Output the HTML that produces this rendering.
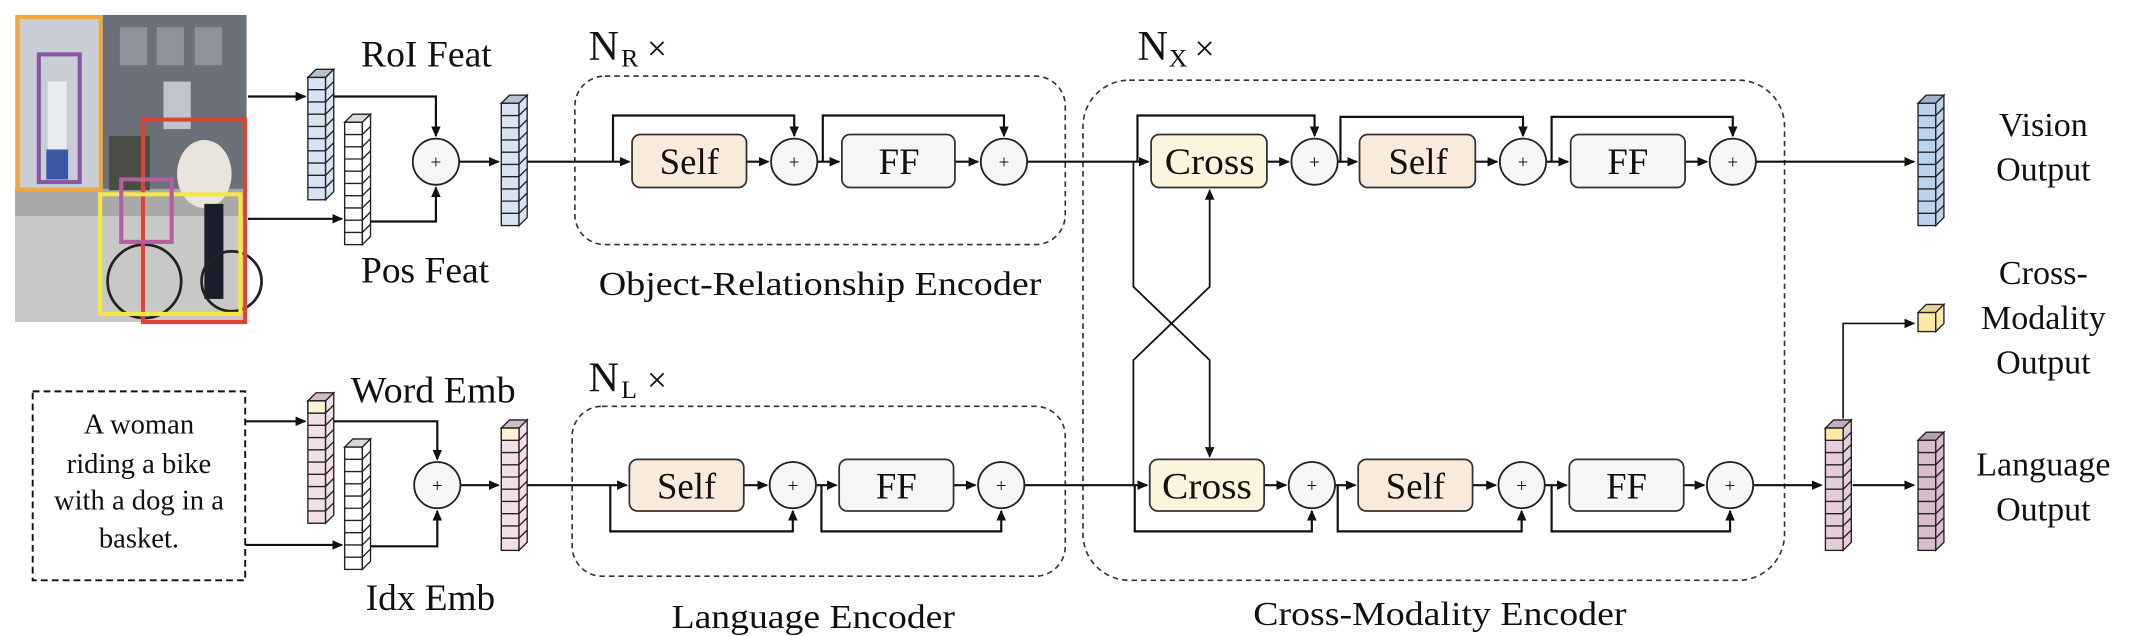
<!DOCTYPE html>
<html><head><meta charset="utf-8"><style>
html,body{margin:0;padding:0;background:#fff}
svg{display:block}
svg text{font-family:"Liberation Serif","Times New Roman","DejaVu Serif",serif;fill:#111}
</style></head><body>
<svg width="2136" height="636" viewBox="0 0 1568 468" preserveAspectRatio="none" xmlns="http://www.w3.org/2000/svg" font-family="Liberation Serif, Times New Roman, DejaVu Serif, serif">
<defs>
<marker id="ah" markerWidth="8" markerHeight="8" refX="7" refY="4" orient="auto" markerUnits="userSpaceOnUse"><path d="M0,0.5 L8,4 L0,7.5 z" fill="#111"/></marker>
<g id="cells10">
<path d="M0,15H13M0,24H13M0,33H13M0,42H13M0,51H13M0,60H13M0,69H13M0,78H13M0,87H13 M13,15L19,9M13,24L19,18M13,33L19,27M13,42L19,36M13,51L19,45M13,60L19,54M13,69L19,63M13,78L19,72M13,87L19,81" stroke="#222" stroke-width="1" fill="none"/>
</g>
<g id="cube">
<polygon points="0,6 6,0 19,0 13,6" fill="currentColor" stroke="#222"/>
<polygon points="0,6 6,0 19,0 13,6" fill="#000" opacity="0.15"/>
<rect x="0" y="6" width="13" height="90" fill="currentColor" stroke="#222"/>
<polygon points="13,6 19,0 19,90 13,96" fill="currentColor" stroke="#222"/>
<use href="#cells10"/>
</g>
</defs>

<!-- photo -->
<rect x="11" y="11" width="170" height="130" fill="#6c707a"/>
<rect x="11" y="11" width="64" height="128" fill="#c9ced6"/>
<rect x="11" y="139" width="170" height="98" fill="#c8c8c6"/>
<rect x="11" y="139" width="170" height="20" fill="#a9a9a8"/>
<rect x="35" y="60" width="14" height="70" fill="#e8ebf0"/>
<rect x="34" y="110" width="16" height="22" fill="#3d56a3"/>
<rect x="88" y="20" width="20" height="28" fill="#8d929b"/>
<rect x="115" y="20" width="20" height="28" fill="#8d929b"/>
<rect x="143" y="20" width="20" height="28" fill="#8d929b"/>
<rect x="120" y="60" width="20" height="35" fill="#c0c4cc"/>
<rect x="80" y="100" width="30" height="40" fill="#4a4d45"/>
<ellipse cx="150" cy="128" rx="20" ry="25" fill="#e9e5dc"/>
<rect x="150" y="150" width="14" height="70" fill="#1b1f2c"/>
<circle cx="106" cy="207" r="27" fill="none" stroke="#222" stroke-width="2"/>
<circle cx="170" cy="207" r="22" fill="none" stroke="#222" stroke-width="2"/>
<g fill="none" stroke-width="3">
<rect x="13" y="12.5" width="61" height="127" stroke="#eda93a"/>
<rect x="28.5" y="40" width="30" height="94" stroke="#8a55a3"/>
<rect x="105" y="88" width="75" height="149" stroke="#de4333"/>
<rect x="73.5" y="143" width="103" height="88" stroke="#f4e842"/>
<rect x="89" y="132" width="37" height="46" stroke="#b35fa0"/>
</g>

<!-- vision input cubes -->
<g color="#d8e4f4"><use href="#cube" x="226" y="51"/></g>
<g color="#ffffff"><use href="#cube" x="253" y="84"/></g>
<g color="#d8e4f4"><use href="#cube" x="368" y="70"/></g>
<g stroke="#111" stroke-width="1.6" fill="none">
<line x1="182" y1="71" x2="224" y2="71" marker-end="url(#ah)"/>
<line x1="182" y1="161" x2="251" y2="161" marker-end="url(#ah)"/>
<polyline points="245,71 320,71 320,100" marker-end="url(#ah)"/>
<polyline points="272,163 320,163 320,138" marker-end="url(#ah)"/>
<line x1="337" y1="119" x2="366" y2="119" marker-end="url(#ah)"/>
</g>
<circle cx="320" cy="119" r="17" fill="#f5f6f8" stroke="#222" stroke-width="1.3"/>
<text x="320" y="124" font-size="14" text-anchor="middle">+</text>
<text x="313" y="49" font-size="27" text-anchor="middle" textLength="96" lengthAdjust="spacingAndGlyphs">RoI Feat</text>
<text x="312" y="208" font-size="27" text-anchor="middle" textLength="94" lengthAdjust="spacingAndGlyphs">Pos Feat</text>

<!-- language input -->
<rect x="24" y="288" width="156" height="139" fill="none" stroke="#111" stroke-width="1.4" stroke-dasharray="5,3"/>
<g font-size="21" text-anchor="middle">
<text x="102" y="319">A woman</text>
<text x="102" y="348">riding a bike</text>
<text x="102" y="375">with a dog in a</text>
<text x="102" y="403">basket.</text>
</g>
<g color="#f2dfe8"><use href="#cube" x="226" y="289"/></g>
<rect x="226" y="295" width="13" height="9" fill="#fcf3d0" stroke="#222"/>
<g color="#ffffff"><use href="#cube" x="253" y="323"/></g>
<g color="#f2dfe8"><use href="#cube" x="368" y="309"/></g>
<rect x="368" y="315" width="13" height="9" fill="#fcf3d0" stroke="#222"/>
<g stroke="#111" stroke-width="1.6" fill="none">
<line x1="180" y1="310" x2="224" y2="310" marker-end="url(#ah)"/>
<line x1="180" y1="401" x2="251" y2="401" marker-end="url(#ah)"/>
<polyline points="245,310 321,310 321,338" marker-end="url(#ah)"/>
<polyline points="272,402 321,402 321,376" marker-end="url(#ah)"/>
<line x1="338" y1="357" x2="366" y2="357" marker-end="url(#ah)"/>
</g>
<circle cx="321" cy="357" r="17" fill="#f5f6f8" stroke="#222" stroke-width="1.3"/>
<text x="321" y="362" font-size="14" text-anchor="middle">+</text>
<text x="318" y="296" font-size="27" text-anchor="middle" textLength="121" lengthAdjust="spacingAndGlyphs">Word Emb</text>
<text x="316" y="449" font-size="27" text-anchor="middle" textLength="95" lengthAdjust="spacingAndGlyphs">Idx Emb</text>

<!-- encoder dashed boxes -->
<g fill="none" stroke="#333" stroke-width="1.2" stroke-dasharray="4,3">
<rect x="422" y="56" width="360" height="124" rx="22"/>
<rect x="420" y="299" width="362" height="125" rx="22"/>
<rect x="795" y="59" width="515" height="368" rx="34"/>
</g>
<g font-size="31"><text x="432" y="44">N</text><text x="432" y="288">N</text><text x="835" y="44">N</text></g>
<g font-size="19"><text x="456" y="49">R</text><text x="456" y="293">L</text><text x="858" y="49">X</text></g>
<g font-size="26"><text x="475" y="44">×</text><text x="475" y="288">×</text><text x="877" y="44">×</text></g>
<text x="602" y="217" font-size="25" text-anchor="middle" textLength="325" lengthAdjust="spacingAndGlyphs">Object-Relationship Encoder</text>
<text x="597" y="462" font-size="25" text-anchor="middle" textLength="208" lengthAdjust="spacingAndGlyphs">Language Encoder</text>
<text x="1057" y="460" font-size="25" text-anchor="middle" textLength="274" lengthAdjust="spacingAndGlyphs">Cross-Modality Encoder</text>

<!-- connectors -->
<g stroke="#111" stroke-width="1.6" fill="none">
<line x1="387" y1="119" x2="462" y2="119" marker-end="url(#ah)"/>
<polyline points="450,119 450,85 583,85 583,100" marker-end="url(#ah)"/>
<line x1="548" y1="119" x2="564" y2="119" marker-end="url(#ah)"/>
<line x1="600" y1="119" x2="616" y2="119" marker-end="url(#ah)"/>
<polyline points="604,119 604,85 737,85 737,100" marker-end="url(#ah)"/>
<line x1="701" y1="119" x2="718" y2="119" marker-end="url(#ah)"/>
<line x1="754" y1="119" x2="843" y2="119" marker-end="url(#ah)"/>
<line x1="387" y1="357" x2="460" y2="357" marker-end="url(#ah)"/>
<polyline points="448,357 448,391 582,391 582,376" marker-end="url(#ah)"/>
<line x1="546" y1="357" x2="563" y2="357" marker-end="url(#ah)"/>
<line x1="599" y1="357" x2="614" y2="357" marker-end="url(#ah)"/>
<polyline points="603,357 603,391 735,391 735,376" marker-end="url(#ah)"/>
<line x1="700" y1="357" x2="716" y2="357" marker-end="url(#ah)"/>
<line x1="752" y1="357" x2="842" y2="357" marker-end="url(#ah)"/>
<polyline points="835,119 835,85 965,85 965,100" marker-end="url(#ah)"/>
<line x1="930" y1="119" x2="946" y2="119" marker-end="url(#ah)"/>
<line x1="982" y1="119" x2="996" y2="119" marker-end="url(#ah)"/>
<polyline points="984,119 984,86 1118,86 1118,100" marker-end="url(#ah)"/>
<line x1="1083" y1="119" x2="1099" y2="119" marker-end="url(#ah)"/>
<line x1="1135" y1="119" x2="1151" y2="119" marker-end="url(#ah)"/>
<polyline points="1139,119 1139,86 1272,86 1272,100" marker-end="url(#ah)"/>
<line x1="1237" y1="119" x2="1253" y2="119" marker-end="url(#ah)"/>
<line x1="1289" y1="119" x2="1405" y2="119" marker-end="url(#ah)"/>
<polyline points="833,357 833,391 963,391 963,376" marker-end="url(#ah)"/>
<line x1="928" y1="357" x2="944" y2="357" marker-end="url(#ah)"/>
<line x1="980" y1="357" x2="995" y2="357" marker-end="url(#ah)"/>
<polyline points="982,357 982,391 1117,391 1117,376" marker-end="url(#ah)"/>
<line x1="1081" y1="357" x2="1098" y2="357" marker-end="url(#ah)"/>
<line x1="1134" y1="357" x2="1150" y2="357" marker-end="url(#ah)"/>
<polyline points="1139,357 1139,391 1270,391 1270,376" marker-end="url(#ah)"/>
<line x1="1236" y1="357" x2="1251" y2="357" marker-end="url(#ah)"/>
<line x1="1287" y1="357" x2="1337" y2="357" marker-end="url(#ah)"/>
<polyline points="832,119 832,211 888,265 888,336" stroke-width="1.3" marker-end="url(#ah)"/>
<polyline points="832,357 832,265 888,211 888,140" stroke-width="1.3" marker-end="url(#ah)"/>
<line x1="1360" y1="357" x2="1405" y2="357" marker-end="url(#ah)"/>
<polyline points="1353,308 1353,238 1405,238" stroke-width="1.2" marker-end="url(#ah)"/>
</g>

<!-- blocks -->
<g stroke="#333" stroke-width="1.3">
<rect x="464" y="99" width="84" height="39" rx="6" fill="#f8ebdb"/>
<rect x="618" y="99" width="83" height="39" rx="6" fill="#f4f6f8"/>
<rect x="462" y="338" width="84" height="38" rx="6" fill="#f8ebdb"/>
<rect x="616" y="338" width="84" height="38" rx="6" fill="#f4f6f8"/>
<rect x="845" y="99" width="85" height="39" rx="6" fill="#fcf4dc"/>
<rect x="998" y="99" width="85" height="39" rx="6" fill="#f8ebdb"/>
<rect x="1153" y="99" width="84" height="39" rx="6" fill="#f4f6f8"/>
<rect x="844" y="338" width="84" height="38" rx="6" fill="#fcf4dc"/>
<rect x="997" y="338" width="84" height="38" rx="6" fill="#f8ebdb"/>
<rect x="1152" y="338" width="84" height="38" rx="6" fill="#f4f6f8"/>
</g>
<g fill="#f5f6f8" stroke="#222" stroke-width="1.3">
<circle cx="583" cy="119" r="17"/><circle cx="737" cy="119" r="17"/>
<circle cx="582" cy="357" r="17"/><circle cx="735" cy="357" r="17"/>
<circle cx="965" cy="119" r="17"/><circle cx="1118" cy="119" r="17"/><circle cx="1272" cy="119" r="17"/>
<circle cx="963" cy="357" r="17"/><circle cx="1117" cy="357" r="17"/><circle cx="1270" cy="357" r="17"/>
</g>
<g font-size="14" text-anchor="middle">
<text x="583" y="124">+</text><text x="737" y="124">+</text>
<text x="582" y="362">+</text><text x="735" y="362">+</text>
<text x="965" y="124">+</text><text x="1118" y="124">+</text><text x="1272" y="124">+</text>
<text x="963" y="362">+</text><text x="1117" y="362">+</text><text x="1270" y="362">+</text>
</g>
<g font-size="27" text-anchor="middle">
<text x="506" y="128">Self</text><text x="660" y="128">FF</text>
<text x="504" y="367">Self</text><text x="658" y="367">FF</text>
<text x="888" y="128" textLength="66" lengthAdjust="spacingAndGlyphs">Cross</text><text x="1041" y="128">Self</text><text x="1195" y="128">FF</text>
<text x="886" y="367" textLength="66" lengthAdjust="spacingAndGlyphs">Cross</text><text x="1039" y="367">Self</text><text x="1194" y="367">FF</text>
</g>

<!-- output cubes -->
<g color="#bcd3ee"><use href="#cube" x="1408" y="70"/></g>
<g color="#e6cddc"><use href="#cube" x="1340" y="309"/></g>
<rect x="1340" y="315" width="13" height="9" fill="#fbe9a8" stroke="#222"/>
<g color="#d9bccd">
<g transform="translate(1408,318)">
<polygon points="0,6 6,0 19,0 13,6" fill="currentColor" stroke="#222"/>
<polygon points="0,6 6,0 19,0 13,6" fill="#000" opacity="0.15"/>
<rect x="0" y="6" width="13" height="81" fill="currentColor" stroke="#222"/>
<polygon points="13,6 19,0 19,81 13,87" fill="currentColor" stroke="#222"/>
<path d="M0,15H13M0,24H13M0,33H13M0,42H13M0,51H13M0,60H13M0,69H13M0,78H13 M13,15L19,9M13,24L19,18M13,33L19,27M13,42L19,36M13,51L19,45M13,60L19,54M13,69L19,63M13,78L19,72" stroke="#222" fill="none"/>
</g></g>
<g transform="translate(1408,224)">
<polygon points="0,6 6,0 19,0 13,6" fill="#e6d49a" stroke="#222"/>
<rect x="0" y="6" width="13" height="14" fill="#fbe9a8" stroke="#222"/>
<polygon points="13,6 19,0 19,14 13,20" fill="#fbe9a8" stroke="#222"/>
</g>
<g font-size="25" text-anchor="middle">
<text x="1500" y="100">Vision</text>
<text x="1500" y="133">Output</text>
<text x="1500" y="209">Cross-</text>
<text x="1500" y="242">Modality</text>
<text x="1500" y="275">Output</text>
<text x="1500" y="350">Language</text>
<text x="1500" y="383">Output</text>
</g>
</svg>
</body></html>
